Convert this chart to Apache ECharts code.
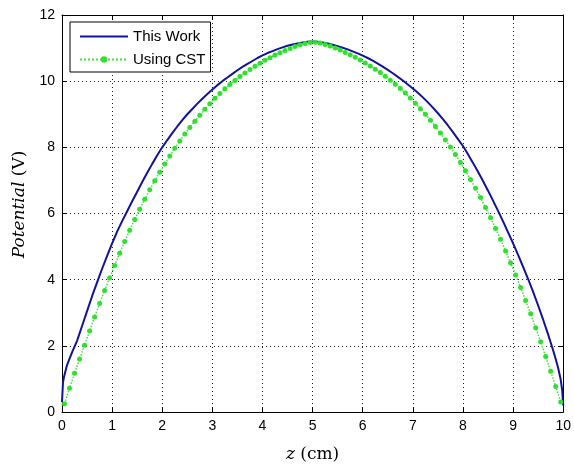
<!DOCTYPE html>
<html>
<head>
<meta charset="utf-8">
<script src="https://cdn.jsdelivr.net/npm/echarts@6/dist/echarts.min.js"></script>
<style>html,body{margin:0;padding:0;background:#fff;}#c{width:574px;height:468px;}</style>
</head>
<body>
<div id="c"></div>
<script>
// ---- data ----
var seriesNames = ['This Work', 'Using CST'];
var xTicks = [0,1,2,3,4,5,6,7,8,9,10];
var yTicks = [0,2,4,6,8,10,12];

var thisWorkX = [0,0.02,0.04,0.1,0.2,0.3,0.4,0.5,0.6,0.7,0.8,0.9,1.0,1.1,1.2,1.3,1.4,1.5,1.6,1.7,1.8,1.9,2.0,
  2.1,2.2,2.3,2.4,2.5,2.6,2.7,2.8,2.9,3.0,3.1,3.2,3.3,3.4,3.5,3.6,3.7,3.8,3.9,4.0,4.1,4.2,4.3,4.4,4.5,4.6,4.7,4.8,4.9,5.0,
  5.1,5.2,5.3,5.4,5.5,5.6,5.7,5.8,5.9,6.0,6.1,6.2,6.3,6.4,6.5,6.6,6.7,6.8,6.9,7.0,7.1,7.2,7.3,7.4,7.5,7.6,7.7,7.8,7.9,8.0,
  8.1,8.2,8.3,8.4,8.5,8.6,8.7,8.8,8.9,9.0,9.1,9.2,9.3,9.4,9.5,9.6,9.7,9.75,9.8,9.85,9.9,9.95,9.98,10.0];
var thisWorkY = [0.3,0.9,1.06,1.42,1.8,2.15,2.6,3.05,3.5,3.92,4.33,4.72,5.1,5.45,5.77,6.07,6.37,6.66,6.95,7.23,7.5,7.76,8.0,
  8.22,8.43,8.63,8.82,9.0,9.16,9.32,9.47,9.61,9.75,9.88,10.0,10.11,10.22,10.33,10.43,10.52,10.61,10.70,10.78,10.85,10.91,10.97,11.02,11.07,11.11,11.14,11.17,11.19,11.2,
  11.19,11.17,11.14,11.1,11.06,11.01,10.96,10.9,10.84,10.77,10.7,10.62,10.53,10.44,10.34,10.24,10.13,10.02,9.9,9.78,9.65,9.51,9.36,9.2,9.03,8.85,8.66,8.46,8.25,8.04,
  7.79,7.53,7.26,6.98,6.69,6.39,6.08,5.76,5.43,5.1,4.75,4.39,4.02,3.63,3.22,2.79,2.34,2.1,1.86,1.6,1.32,0.98,0.65,0.2];

var cstX = [0.05,0.15,0.25,0.35,0.45,0.55,0.65,0.75,0.85,0.95,1.05,1.15,1.25,1.35,1.45,1.55,1.65,1.75,1.85,1.95,
  2.05,2.15,2.25,2.35,2.45,2.55,2.65,2.75,2.85,2.95,3.05,3.15,3.25,3.35,3.45,3.55,3.65,3.75,3.85,3.95,
  4.05,4.15,4.25,4.35,4.45,4.55,4.65,4.75,4.85,4.95,5.05,5.15,5.25,5.35,5.45,5.55,5.65,5.75,5.85,5.95,
  6.05,6.15,6.25,6.35,6.45,6.55,6.65,6.75,6.85,6.95,7.05,7.15,7.25,7.35,7.45,7.55,7.65,7.75,7.85,7.95,
  8.05,8.15,8.25,8.35,8.45,8.55,8.65,8.75,8.85,8.95,9.05,9.15,9.25,9.35,9.45,9.55,9.65,9.75,9.85,9.95];
var cstY = [0.25,0.72,1.17,1.60,2.02,2.45,2.87,3.28,3.67,4.05,4.43,4.80,5.15,5.49,5.82,6.13,6.43,6.72,6.99,7.25,
  7.50,7.74,7.97,8.19,8.40,8.60,8.79,8.97,9.15,9.32,9.48,9.63,9.77,9.90,10.02,10.14,10.25,10.35,10.45,10.54,
  10.63,10.71,10.79,10.86,10.93,10.99,11.05,11.10,11.14,11.17,11.18,11.15,11.11,11.06,11.00,10.94,10.87,10.80,10.72,10.64,
  10.55,10.46,10.36,10.26,10.15,10.03,9.91,9.78,9.64,9.49,9.33,9.17,9.00,8.82,8.63,8.43,8.22,8.01,7.78,7.54,
  7.29,7.03,6.76,6.48,6.18,5.87,5.55,5.22,4.87,4.51,4.14,3.76,3.37,2.97,2.55,2.12,1.68,1.23,0.77,0.30];

function pairs(xs, ys){ return xs.map(function(x,i){ return [x, ys[i]]; }); }

var chart = echarts.init(document.getElementById('c'), null, {renderer:'canvas'});
var labelFont = '"Liberation Sans", Arial, sans-serif';
var serif = '"DejaVu Serif", "Liberation Serif", serif';
var blue = '#12129a', green = '#2fe02f';

function xAx(pos, show){
  return {
    type:'value', position:pos, min:xTicks[0], max:xTicks[xTicks.length-1], interval:1,
    axisLine:{show:true, onZero:false, lineStyle:{color:'#000', width:1}},
    axisTick:{show:true, inside:true, length:5, lineStyle:{color:'#000'}},
    axisLabel:{show:show, color:'#000', fontSize:14, fontFamily:labelFont, margin:7},
    splitLine:{show:show, lineStyle:{color:'#222', type:[1,3], width:1}},
    name: show ? '{i|z} (cm)' : '',
    nameLocation:'middle', nameGap:34,
    nameTextStyle:{color:'#000', fontSize:17, fontFamily:serif, rich:{i:{fontStyle:'italic', fontSize:17, fontFamily:serif, color:'#000'}}}
  };
}
function yAx(pos, show){
  return {
    type:'value', position:pos, min:yTicks[0], max:yTicks[yTicks.length-1], interval:2,
    axisLine:{show:true, onZero:false, lineStyle:{color:'#000', width:1}},
    axisTick:{show:true, inside:true, length:5, lineStyle:{color:'#000'}},
    axisLabel:{show:show, color:'#000', fontSize:14, fontFamily:labelFont, margin:7},
    splitLine:{show:show, lineStyle:{color:'#222', type:[1,3], width:1}},
    name: show ? '{i|Potential} (V)' : '',
    nameLocation:'middle', nameGap:33, nameRotate:90,
    nameTextStyle:{color:'#000', fontSize:17, fontFamily:serif, padding:[0,0,0,18], rich:{i:{fontStyle:'italic', fontSize:17, fontFamily:serif, color:'#000'}}}
  };
}

chart.setOption({
  animation:false,
  backgroundColor:'#fff',
  grid:{left:62, right:8, top:15, bottom:52, containLabel:false},
  legend:{
    orient:'vertical', left:70, top:22,
    data:[
      {name:seriesNames[0], itemStyle:{opacity:0}},
      {name:seriesNames[1]}
    ],
    backgroundColor:'#fff', borderColor:'#000', borderWidth:1,
    padding:[7,5,5,9], itemGap:8, itemWidth:48, itemHeight:8,
    textStyle:{color:'#000', fontSize:15, fontFamily:labelFont}
  },
  xAxis:[xAx('bottom', true), xAx('top', false)],
  yAxis:[yAx('left', true), yAx('right', false)],
  series:[
    {
      name:seriesNames[0], type:'line', xAxisIndex:0, yAxisIndex:0,
      data:pairs(thisWorkX, thisWorkY),
      showSymbol:false, symbol:'none',
      lineStyle:{color:blue, width:2},
      itemStyle:{color:blue}
    },
    {
      name:seriesNames[1], type:'line', xAxisIndex:0, yAxisIndex:0,
      data:pairs(cstX, cstY),
      symbol:'circle', symbolSize:5, showSymbol:true,
      lineStyle:{color:'#44e044', width:1.5, type:'dotted'},
      itemStyle:{color:green}
    }
  ]
});
</script>
</body>
</html>
